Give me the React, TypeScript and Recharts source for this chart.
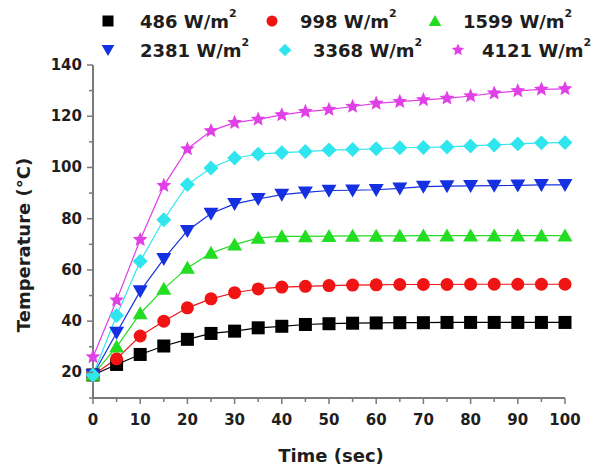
import { LineChart, Line, XAxis, YAxis, Legend, Label } from 'recharts'

// time axis (sec)
const time = [0, 5, 10, 15, 20, 25, 30, 35, 40, 45, 50, 55, 60, 65, 70, 75, 80, 85, 90, 95, 100]

// temperature (°C) per irradiance level
const w486 = [19, 23.1, 27, 30.3, 32.9, 35.2, 36.1, 37.4, 38, 38.7, 39, 39.2, 39.3, 39.4, 39.4, 39.5, 39.5, 39.5, 39.5, 39.5, 39.5]
const w998 = [19, 25.3, 34.2, 40, 45.2, 48.7, 51.1, 52.6, 53.3, 53.6, 53.9, 54.1, 54.2, 54.3, 54.3, 54.3, 54.4, 54.4, 54.4, 54.4, 54.4]
const w1599 = [19, 30, 43, 52.6, 60.8, 66.6, 69.9, 72.5, 73.1, 73.1, 73.2, 73.3, 73.3, 73.3, 73.4, 73.4, 73.4, 73.4, 73.4, 73.4, 73.4]
const w2381 = [19, 35.5, 51.7, 64.3, 75.3, 82, 85.8, 87.7, 89.4, 90.3, 91, 91.1, 91.3, 91.8, 92.5, 92.7, 92.8, 92.9, 93, 93.2, 93.2]
const w3368 = [19, 42.2, 63.4, 79.6, 93.3, 99.8, 103.7, 105.2, 105.8, 106.2, 106.8, 107, 107.3, 107.7, 107.8, 108, 108.4, 108.8, 109.2, 109.6, 109.7]
const w4121 = [26, 48.2, 71.8, 92.9, 107.2, 114.3, 117.5, 118.8, 120.5, 121.8, 122.6, 123.8, 125, 125.7, 126.4, 127, 127.9, 129, 129.9, 130.5, 130.7]

const seriesNames = ['486', '998', '1599', '2381', '3368', '4121']

const xTicks = [0, 5, 10, 15, 20, 25, 30, 35, 40, 45, 50, 55, 60, 65, 70, 75, 80, 85, 90, 95, 100]
const yTicks = [10, 20, 30, 40, 50, 60, 70, 80, 90, 100, 110, 120, 130, 140]

const FONT = '"DejaVu Sans", sans-serif'
const AXIS = '#7a7a7a'
const TEXT = '#1e1e1e'

const series = [
  { key: 'w486', values: w486, name: seriesNames[0], color: '#000000', shape: 'square' },
  { key: 'w998', values: w998, name: seriesNames[1], color: '#f01414', shape: 'circle' },
  { key: 'w1599', values: w1599, name: seriesNames[2], color: '#22dd22', shape: 'up' },
  { key: 'w2381', values: w2381, name: seriesNames[3], color: '#1530e0', shape: 'down' },
  { key: 'w3368', values: w3368, name: seriesNames[4], color: '#30e6ee', shape: 'diamond' },
  { key: 'w4121', values: w4121, name: seriesNames[5], color: '#e040e6', shape: 'star' },
]

const data = time.map((t, i) => {
  const row: Record<string, number> = { t }
  series.forEach(s => { row[s.key] = s.values[i] })
  return row
})

function Marker({ shape, cx, cy, color, size = 13 }: { shape: string, cx: number, cy: number, color: string, size?: number }) {
  if (cx == null || cy == null) return null
  const r = size / 2
  switch (shape) {
    case 'square':
      return <rect x={cx - r} y={cy - r} width={size} height={size} fill={color} />
    case 'circle':
      return <circle cx={cx} cy={cy} r={r} fill={color} />
    case 'up':
      return <polygon points={`${cx},${cy - r * 1.1} ${cx + r * 1.15},${cy + r * 0.9} ${cx - r * 1.15},${cy + r * 0.9}`} fill={color} />
    case 'down':
      return <polygon points={`${cx},${cy + r * 1.1} ${cx + r * 1.15},${cy - r * 0.9} ${cx - r * 1.15},${cy - r * 0.9}`} fill={color} />
    case 'diamond':
      return <polygon points={`${cx},${cy - r * 1.15} ${cx + r * 1.15},${cy} ${cx},${cy + r * 1.15} ${cx - r * 1.15},${cy}`} fill={color} />
    case 'star': {
      const pts: string[] = []
      const R = r * 1.2
      for (let k = 0; k < 10; k++) {
        const rad = k % 2 === 0 ? R : R * 0.45
        const a = -Math.PI / 2 + (k * Math.PI) / 5
        pts.push(`${cx + rad * Math.cos(a)},${cy + rad * Math.sin(a)}`)
      }
      return <polygon points={pts.join(' ')} fill={color} />
    }
    default:
      return null
  }
}

const XTick = (props: any) => {
  const { x, y, payload } = props
  const major = payload.value % 10 === 0
  return (
    <g>
      <line x1={x} y1={y} x2={x} y2={y + (major ? 6 : 4)} stroke={AXIS} strokeWidth={1.5} />
      {major && (
        <text x={x} y={y + 22} textAnchor="middle" dominantBaseline="central" fontSize={15} fontWeight="bold" fontFamily={FONT} fill={TEXT}>
          {payload.value}
        </text>
      )}
    </g>
  )
}

const YTick = (props: any) => {
  const { x, y, payload } = props
  const major = payload.value % 20 === 0
  return (
    <g>
      <line x1={x - (major ? 6 : 4)} y1={y} x2={x} y2={y} stroke={AXIS} strokeWidth={1.5} />
      {major && (
        <text x={x - 11} y={y} textAnchor="end" dominantBaseline="central" fontSize={15} fontWeight="bold" fontFamily={FONT} fill={TEXT}>
          {payload.value}
        </text>
      )}
    </g>
  )
}

// legend item placement (two rows, three columns as in the figure)
const legendPos = [
  { sx: 108, tx: 140, y: 21 },
  { sx: 272, tx: 300, y: 21 },
  { sx: 435, tx: 463, y: 21 },
  { sx: 108, tx: 140, y: 50 },
  { sx: 285, tx: 313, y: 50 },
  { sx: 458, tx: 482, y: 50 },
]

const renderLegend = () => (
  <svg width={603} height={65} style={{ display: 'block' }}>
    {series.map((s, i) => {
      const p = legendPos[i]
      return (
        <g key={s.key}>
          <Marker shape={s.shape} cx={p.sx} cy={p.y} color={s.color} size={11} />
          <text x={p.tx} y={p.y} dominantBaseline="central" fontSize={18} fontWeight="bold" fontFamily={FONT} fill={TEXT}>
            {s.name} W/m<tspan fontSize={11} dy={-8}>2</tspan>
          </text>
        </g>
      )
    })}
  </svg>
)

export default function App() {
  return (
    <div style={{ position: 'absolute', left: 0, top: 0, width: 603, height: 470, background: '#fff' }}>
      <LineChart width={603} height={470} data={data} margin={{ top: 0, right: 38, bottom: 32, left: 33 }}>
        <Legend
          verticalAlign="top"
          align="left"
          content={renderLegend}
          wrapperStyle={{ left: 0, top: 0, width: 603, height: 65 }}
        />
        <XAxis
          type="number"
          dataKey="t"
          domain={[0, 100]}
          ticks={xTicks}
          interval={0}
          height={40}
          tickSize={0}
          tickMargin={0}
          tickLine={false}
          axisLine={{ stroke: AXIS, strokeWidth: 2 }}
          tick={<XTick />}
        >
          <Label
            content={({ viewBox }: any) => (
              <text x={viewBox.x + viewBox.width / 2 + 2} y={455} textAnchor="middle" dominantBaseline="central" fontSize={18} fontWeight="bold" fontFamily={FONT} fill={TEXT}>
                Time (sec)
              </text>
            )}
          />
        </XAxis>
        <YAxis
          type="number"
          domain={[10, 140]}
          ticks={yTicks}
          interval={0}
          width={60}
          tickSize={0}
          tickMargin={0}
          tickLine={false}
          axisLine={{ stroke: AXIS, strokeWidth: 2 }}
          tick={<YTick />}
        >
          <Label
            content={() => (
              <text transform="translate(23,245) rotate(-90)" textAnchor="middle" dominantBaseline="central" fontSize={18} fontWeight="bold" fontFamily={FONT} fill={TEXT}>
                Temperature (°C)
              </text>
            )}
          />
        </YAxis>
        {series.map(s => (
          <Line
            key={s.key}
            type="linear"
            dataKey={s.key}
            stroke={s.color}
            strokeWidth={1.2}
            isAnimationActive={false}
            dot={(p: any) => <Marker key={`${s.key}-${p.index}`} shape={s.shape} cx={p.cx} cy={p.cy} color={s.color} />}
            activeDot={false}
          />
        ))}
      </LineChart>
    </div>
  )
}
